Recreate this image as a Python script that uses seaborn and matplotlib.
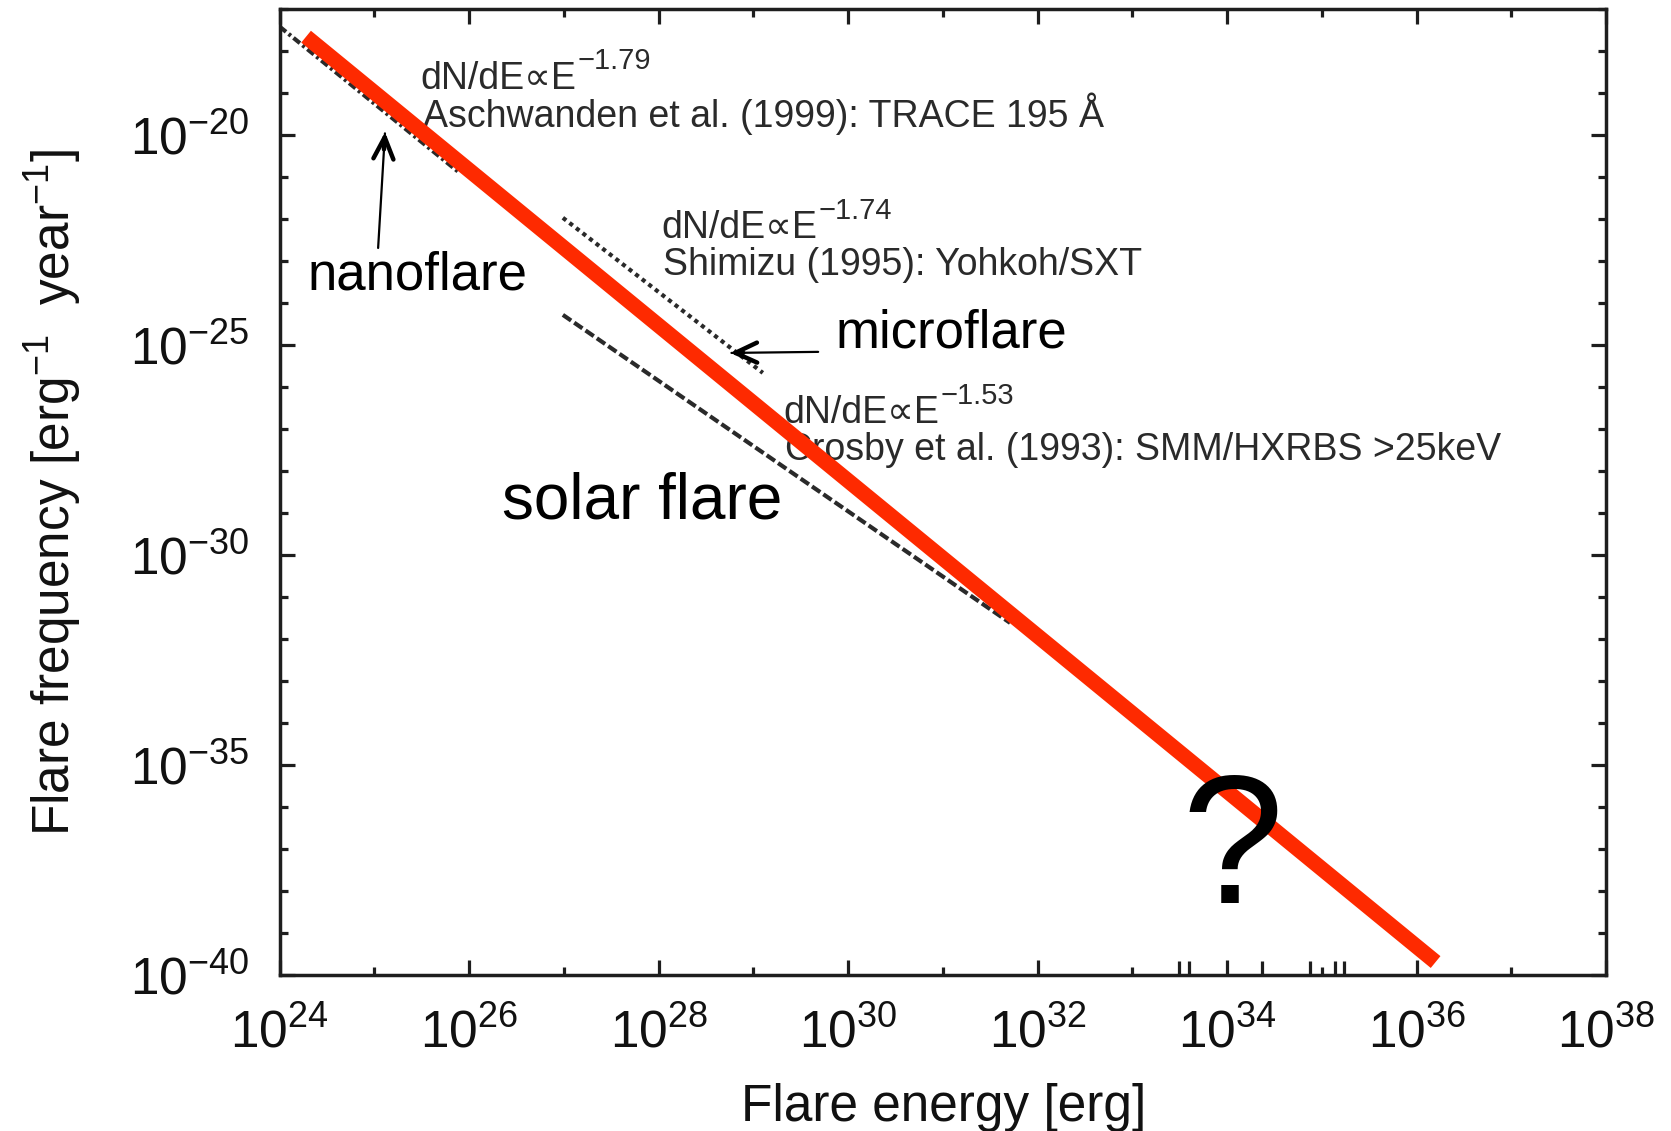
import numpy as np
import pandas as pd
import matplotlib
matplotlib.use("Agg")
import matplotlib.pyplot as plt
import matplotlib.ticker as mticker
import seaborn as sns

# ---------------- data (log10 values) ----------------
aschwanden_logE = [24.0, 25.9]
aschwanden_logN = [-17.42, -20.90]
shimizu_logE = [26.99, 29.10]
shimizu_logN = [-21.97, -25.66]
crosby_logE = [26.99, 31.71]
crosby_logN = [-24.28, -31.61]
fit_logE = [24.28, 36.20]
fit_logN = [-17.66, -39.68]
rug_logE = [33.495, 33.60, 34.37, 34.876, 35.14, 35.23]

x_major_exp = [24, 26, 28, 30, 32, 34, 36, 38]
x_minor_exp = [25, 27, 29, 31, 33, 35, 37]
y_major_exp = [-40, -35, -30, -25, -20]
y_minor_exp = [e for e in range(-40, -16) if e not in y_major_exp]

slope_texts = ["\u22121.79", "\u22121.74", "\u22121.53"]
source_texts = ["Aschwanden et al. (1999): TRACE 195 ",
                "Shimizu (1995): Yohkoh/SXT",
                "Crosby et al. (1993): SMM/HXRBS >25keV"]
source_units = ["\u00c5", "", ""]
labels_big = ["nanoflare", "microflare", "solar flare", "?"]

# ---------------- style ----------------
sns.set_theme(style="ticks")
plt.rcParams["font.family"] = ["Liberation Sans", "DejaVu Sans"]
plt.rcParams["mathtext.fontset"] = "custom"
plt.rcParams["mathtext.rm"] = "Liberation Sans"
plt.rcParams["mathtext.it"] = "Liberation Sans:italic"
plt.rcParams["mathtext.bf"] = "Liberation Sans:bold"
plt.rcParams["mathtext.sf"] = "Liberation Sans"

INK = "#1e1e1e"
GRAY = "#2a2a2a"
RED = "#fe2a00"

fig = plt.figure(figsize=(16.71, 11.31), dpi=100)
ax = fig.add_axes([0.1673, 0.1375, 0.7939, 0.8546])
ax.set_xscale("log")
ax.set_yscale("log")

def df(le, ln):
    return pd.DataFrame({"E": 10.0 ** np.array(le), "N": 10.0 ** np.array(ln)})

sns.lineplot(data=df(aschwanden_logE, aschwanden_logN), x="E", y="N", ax=ax,
             color=GRAY, linewidth=3.0, linestyle=(0, (2.0, 0.8, 0.7, 0.8)))
sns.lineplot(data=df(shimizu_logE, shimizu_logN), x="E", y="N", ax=ax,
             color=GRAY, linewidth=3.0, linestyle=(0, (1.0, 1.0)))
sns.lineplot(data=df(crosby_logE, crosby_logN), x="E", y="N", ax=ax,
             color=GRAY, linewidth=3.0, linestyle=(0, (2.4, 0.9)))
sns.lineplot(data=df(fit_logE, fit_logN), x="E", y="N", ax=ax,
             color=RED, linewidth=11, solid_capstyle="butt", zorder=5)

ax.set_xlim(1e24, 1e38)
ax.set_ylim(1e-40, 1e-17)

ax.xaxis.set_major_locator(mticker.FixedLocator([10.0 ** e for e in x_major_exp]))
ax.xaxis.set_minor_locator(mticker.FixedLocator([10.0 ** e for e in x_minor_exp]))
ax.yaxis.set_major_locator(mticker.FixedLocator([10.0 ** e for e in y_major_exp]))
ax.yaxis.set_minor_locator(mticker.FixedLocator([10.0 ** e for e in y_minor_exp]))
ax.xaxis.set_major_formatter(mticker.LogFormatterMathtext())
ax.yaxis.set_major_formatter(mticker.LogFormatterMathtext())
ax.xaxis.set_minor_formatter(mticker.NullFormatter())
ax.yaxis.set_minor_formatter(mticker.NullFormatter())

ax.tick_params(which="both", direction="in", top=True, right=True,
               color=INK, width=2.3)
ax.tick_params(which="major", length=10.5, labelcolor="#111111")
ax.tick_params(which="minor", length=5.5)
ax.tick_params(axis="x", which="major", pad=24, labelsize=37)
ax.tick_params(axis="y", which="major", pad=22, labelsize=37)

for s in ax.spines.values():
    s.set_color(INK)
    s.set_linewidth(2.5)
    s.set_visible(True)

# leftover rug ticks on the bottom axis
ax.vlines([10.0 ** e for e in rug_logE], 0, 0.0155, transform=ax.get_xaxis_transform(),
          color=INK, linewidth=2.3)

ax.set_xlabel("Flare energy [erg]", fontsize=37, color="#111111")
ax.xaxis.set_label_coords(0.5002, -0.137)
ax.xaxis.label.set_verticalalignment("center")
ax.set_ylabel("Flare frequency [erg$^{-1}$  year$^{-1}$]", fontsize=37, color="#111111")
ax.yaxis.set_label_coords(-0.1705, 0.5)
ax.yaxis.label.set_verticalalignment("center")

# small annotations: "dN/dE ∝ E^(slope)" and source line
small_pos = [(0.1063, 0.9170, 0.8779), (0.2876, 0.7625, 0.7248), (0.3796, 0.5711, 0.5334)]
for slope, src, unit, (fx, fy1, fy2) in zip(slope_texts, source_texts, source_units, small_pos):
    t1 = ax.text(fx, fy1, "dN/dE\u221dE", transform=ax.transAxes, fontsize=27,
                 color=GRAY, ha="left", va="baseline", zorder=4)
    ax.annotate(slope, xy=(1, 1), xycoords=t1, xytext=(1, 10),
                textcoords="offset points", fontsize=21, color=GRAY,
                ha="left", va="top", zorder=4)
    t2 = ax.text(fx + 0.0015, fy2, src, transform=ax.transAxes, fontsize=27, color=GRAY,
                 ha="left", va="baseline", zorder=4)
    if unit:
        ax.annotate(unit, xy=(1, 0), xycoords=t2, xytext=(0, 0),
                    textcoords="offset points", fontsize=27, color=GRAY,
                    ha="left", va="bottom", zorder=4)

# big labels
big_pos = [(0.0208, 0.7093, "left", 38, "normal"), (0.4188, 0.6493, "left", 38, "normal"),
           (0.1677, 0.4723, "left", 46, "normal"), (0.718, 0.075, "center", 132, "normal")]
for txt, (fx, fy, ha, fs, fw) in zip(labels_big, big_pos):
    ax.text(fx, fy, txt, transform=ax.transAxes, fontsize=fs, color="black",
            ha=ha, va="baseline", fontweight=fw, zorder=6)

# arrows: thin shaft + bold open head
arrows = [((0.0743, 0.7527), (0.0795, 0.8727)), ((0.406, 0.6452), (0.3396, 0.6441))]
for (tx, ty), (hx, hy) in arrows:
    ax.annotate("", xy=(hx, hy), xytext=(tx, ty),
                xycoords="axes fraction", textcoords="axes fraction",
                arrowprops=dict(arrowstyle="-", color="black", lw=1.6,
                                shrinkA=0, shrinkB=1), zorder=6)
    dx, dy = hx - tx, hy - ty
    ax.annotate("", xy=(hx, hy), xytext=(hx - 0.15 * dx, hy - 0.15 * dy),
                xycoords="axes fraction", textcoords="axes fraction",
                arrowprops=dict(arrowstyle="->,head_length=1.3,head_width=0.6",
                                color="black", lw=3.2, shrinkA=0, shrinkB=0),
                zorder=6)

fig.savefig("out.png", dpi=100, facecolor="white")
